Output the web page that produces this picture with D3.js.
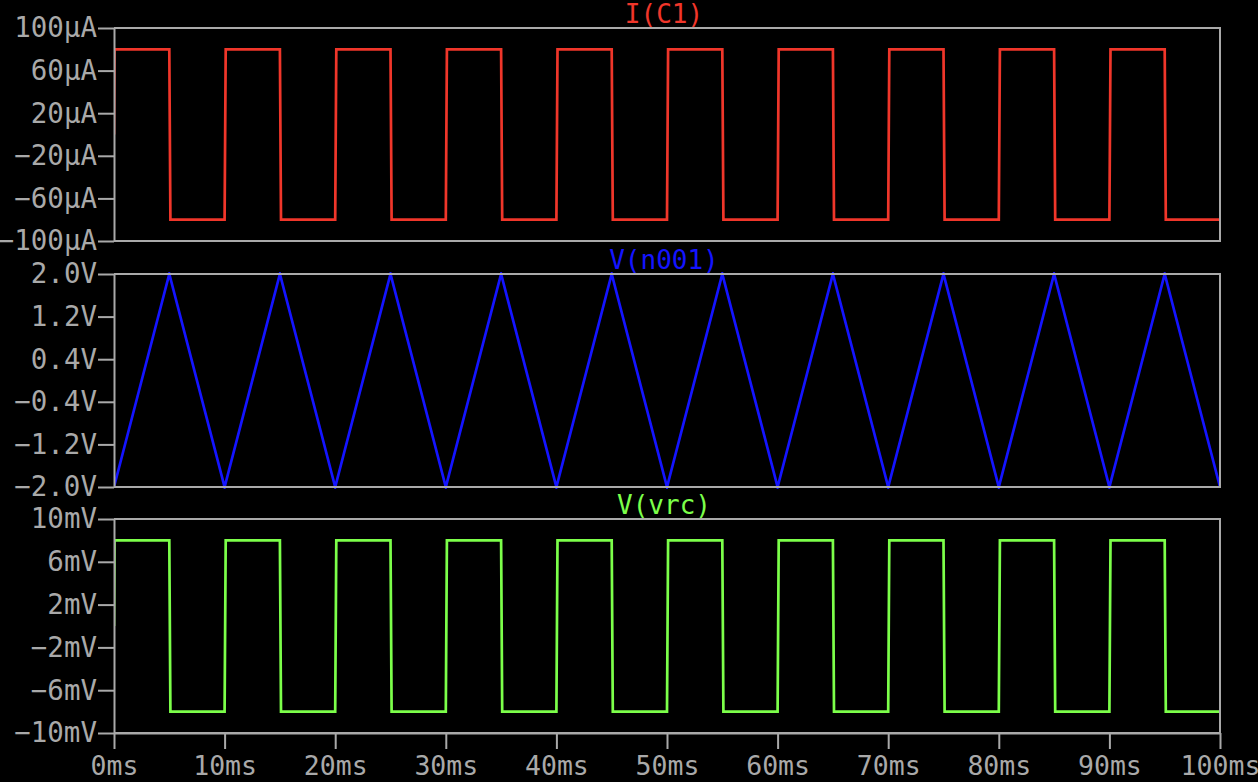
<!DOCTYPE html>
<html>
<head>
<meta charset="utf-8">
<script src="https://cdn.jsdelivr.net/npm/d3@7"></script>
<style>
html,body{margin:0;padding:0;background:#000;}
svg{display:block;}
</style>
</head>
<body>
<svg id="chart" width="1258" height="782"></svg>
<script>
// ---- data ----
const timeTicks = [0, 10, 20, 30, 40, 50, 60, 70, 80, 90, 100];
const timeTickLabels = ["0ms","10ms","20ms","30ms","40ms","50ms","60ms","70ms","80ms","90ms","100ms"];

const iTicks = [100, 60, 20, -20, -60, -100];
const iTickLabels = ["100µA","60µA","20µA","-20µA","-60µA","-100µA"];
const vTicks = [2.0, 1.2, 0.4, -0.4, -1.2, -2.0];
const vTickLabels = ["2.0V","1.2V","0.4V","-0.4V","-1.2V","-2.0V"];
const rTicks = [10, 6, 2, -2, -6, -10];
const rTickLabels = ["10mV","6mV","2mV","-2mV","-6mV","-10mV"];

// I(C1) square wave (ms, µA)
const iTimes = [0, 0.05, 5, 5.1, 10, 10.1, 15, 15.1, 20, 20.1, 25, 25.1, 30, 30.1, 35, 35.1, 40, 40.1, 45, 45.1, 50, 50.1, 55, 55.1, 60, 60.1, 65, 65.1, 70, 70.1, 75, 75.1, 80, 80.1, 85, 85.1, 90, 90.1, 95, 95.1, 100];
const iValues = [0, 80, 80, -80, -80, 80, 80, -80, -80, 80, 80, -80, -80, 80, 80, -80, -80, 80, 80, -80, -80, 80, 80, -80, -80, 80, 80, -80, -80, 80, 80, -80, -80, 80, 80, -80, -80, 80, 80, -80, -80];

// V(n001) triangle wave (ms, V)
const nTimes = [0, 5, 10, 15, 20, 25, 30, 35, 40, 45, 50, 55, 60, 65, 70, 75, 80, 85, 90, 95, 100];
const nValues = [-2, 2, -2, 2, -2, 2, -2, 2, -2, 2, -2, 2, -2, 2, -2, 2, -2, 2, -2, 2, -2];

// V(vrc) square wave (ms, mV)
const rTimes = [0, 0.05, 5, 5.1, 10, 10.1, 15, 15.1, 20, 20.1, 25, 25.1, 30, 30.1, 35, 35.1, 40, 40.1, 45, 45.1, 50, 50.1, 55, 55.1, 60, 60.1, 65, 65.1, 70, 70.1, 75, 75.1, 80, 80.1, 85, 85.1, 90, 90.1, 95, 95.1, 100];
const rValues = [0, 8, 8, -8, -8, 8, 8, -8, -8, 8, 8, -8, -8, 8, 8, -8, -8, 8, 8, -8, -8, 8, 8, -8, -8, 8, 8, -8, -8, 8, 8, -8, -8, 8, 8, -8, -8, 8, 8, -8, -8];

// ---- layout ----
const svg = d3.select("#chart");
const FONT = "'DejaVu Sans Mono', monospace";
const GRAY = "#a9a9a9";
const x0 = 114, x1 = 1220;
const x = d3.scaleLinear().domain([0, 100]).range([x0, x1]);

const panels = [
  {title: "I(C1)", color: "#f0362a", top: 28, bottom: 241, domain: [-100, 100], ticks: iTicks, labels: iTickLabels, t: iTimes, v: iValues},
  {title: "V(n001)", color: "#1414ff", top: 274, bottom: 487, domain: [-2, 2], ticks: vTicks, labels: vTickLabels, t: nTimes, v: nValues},
  {title: "V(vrc)", color: "#7cff4a", top: 519, bottom: 733, domain: [-10, 10], ticks: rTicks, labels: rTickLabels, t: rTimes, v: rValues}
];

panels.forEach((p, idx) => {
  const y = d3.scaleLinear().domain(p.domain).range([p.bottom, p.top]);
  const g = svg.append("g");

  // trace (clipped to panel)
  const clipId = "clip" + idx;
  svg.append("clipPath").attr("id", clipId)
    .append("rect").attr("x", x0).attr("y", p.top - 2).attr("width", x1 - x0).attr("height", p.bottom - p.top + 4);
  const pts = p.t.map((t, i) => [t, p.v[i]]);
  g.append("path")
    .attr("clip-path", `url(#${clipId})`)
    .attr("d", d3.line().x(d => x(d[0])).y(d => y(d[1]))(pts))
    .attr("fill", "none")
    .attr("stroke", p.color)
    .attr("stroke-width", 2.7)
    .attr("stroke-linejoin", "miter");

  // frame: top, right, bottom
  g.append("path")
    .attr("d", `M${x0},${p.top}H${x1}V${p.bottom}H${x0}`)
    .attr("fill", "none").attr("stroke", GRAY).attr("stroke-width", 2);

  // left axis
  const ya = d3.axisLeft(y).tickValues(p.ticks).tickFormat((d, i) => p.labels[i])
    .tickSize(16).tickSizeOuter(0).tickPadding(1);
  const ag = g.append("g").attr("transform", `translate(${x0},0)`).call(ya);
  ag.selectAll("path.domain").attr("stroke", GRAY).attr("stroke-width", 2);
  ag.selectAll(".tick line").attr("stroke", GRAY).attr("stroke-width", 2);
  ag.selectAll(".tick text").attr("fill", GRAY).attr("font-family", FONT).attr("font-size", 27.5)
    .text((d, i) => p.labels[i].replace("-", "\u2212"));

  // title
  g.append("text")
    .attr("x", 664).attr("y", p.top - 5)
    .attr("text-anchor", "middle")
    .attr("fill", p.color)
    .attr("font-family", FONT).attr("font-size", 26)
    .text(p.title);

  if (idx === panels.length - 1) {
    const xa = d3.axisBottom(x).tickValues(timeTicks).tickFormat((d, i) => timeTickLabels[i])
      .tickSize(16).tickSizeOuter(0).tickPadding(7);
    const xg = g.append("g").attr("transform", `translate(0,${p.bottom})`).call(xa);
    xg.selectAll("path.domain").attr("stroke", GRAY).attr("stroke-width", 2);
    xg.selectAll(".tick line").attr("stroke", GRAY).attr("stroke-width", 2);
    xg.selectAll(".tick text").attr("fill", GRAY).attr("font-family", FONT).attr("font-size", 26.5);
  }
});
</script>
</body>
</html>
